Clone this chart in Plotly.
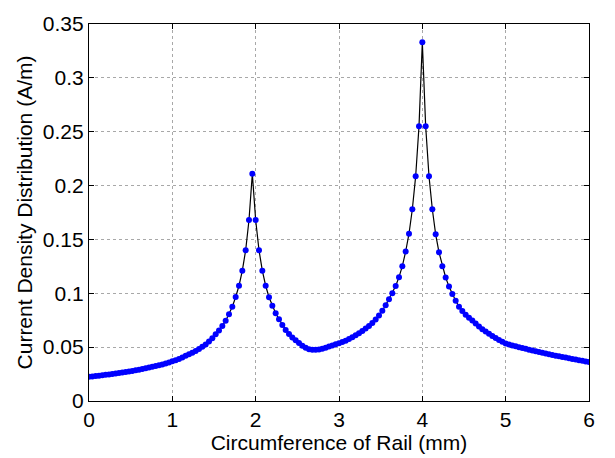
import plotly.graph_objects as go

# x positions: 0 to 6 mm in 0.04 mm steps
x_vals = [round(i * 0.04, 2) for i in range(151)]

# Current density readings (A/m)
y_vals = [
    0.0225, 0.0228, 0.0232, 0.0235, 0.0239, 0.0243, 0.0247, 0.0251, 0.0255, 0.0259,  # 0.00-0.36
    0.0264, 0.0269, 0.0274, 0.0279, 0.0285, 0.0291, 0.0297, 0.0303, 0.0310, 0.0317,  # 0.40-0.76
    0.0324, 0.0332, 0.0340, 0.0349, 0.0358, 0.0368, 0.0379, 0.0391, 0.0405, 0.0420,  # 0.80-1.16
    0.0434, 0.0449, 0.0465, 0.0483, 0.0503, 0.0525, 0.0552, 0.0583, 0.0619, 0.0655,  # 1.20-1.56
    0.0697, 0.0746, 0.0806, 0.0875, 0.0966, 0.1070, 0.1210, 0.1400, 0.1680, 0.2110,  # 1.60-1.96
    0.1680, 0.1400, 0.1210, 0.1070, 0.0963, 0.0884, 0.0815, 0.0760, 0.0705, 0.0660,  # 2.00-2.36
    0.0622, 0.0590, 0.0563, 0.0538, 0.0514, 0.0494, 0.0481, 0.0476, 0.0475, 0.0477,  # 2.40-2.76
    0.0484, 0.0494, 0.0505, 0.0515, 0.0526, 0.0536, 0.0547, 0.0560, 0.0575, 0.0592,  # 2.80-3.16
    0.0610, 0.0628, 0.0649, 0.0673, 0.0697, 0.0724, 0.0756, 0.0793, 0.0838, 0.0890,  # 3.20-3.56
    0.0945, 0.1000, 0.1068, 0.1150, 0.1252, 0.1388, 0.1553, 0.1780, 0.2087, 0.2550,  # 3.60-3.96
    0.3330, 0.2550, 0.2087, 0.1780, 0.1547, 0.1380, 0.1252, 0.1147, 0.1062, 0.0993,  # 4.00-4.36
    0.0930, 0.0876, 0.0835, 0.0800, 0.0773, 0.0748, 0.0720, 0.0692, 0.0667, 0.0645,  # 4.40-4.76
    0.0624, 0.0604, 0.0585, 0.0566, 0.0550, 0.0534, 0.0525, 0.0516, 0.0508, 0.0500,  # 4.80-5.16
    0.0492, 0.0484, 0.0476, 0.0469, 0.0462, 0.0455, 0.0448, 0.0441, 0.0434, 0.0428,  # 5.20-5.56
    0.0421, 0.0415, 0.0409, 0.0403, 0.0397, 0.0391, 0.0385, 0.0379, 0.0373, 0.0367,  # 5.60-5.96
    0.0361,                                                                          # 6.00
]

x_ticks = [0, 1, 2, 3, 4, 5, 6]
x_tick_labels = ["0", "1", "2", "3", "4", "5", "6"]
y_ticks = [0, 0.05, 0.1, 0.15, 0.2, 0.25, 0.3, 0.35]
y_tick_labels = ["0", "0.05", "0.1", "0.15", "0.2", "0.25", "0.3", "0.35"]

x_title = "Circumference of Rail (mm)"
y_title = "Current Density Distribution (A/m)"

fig = go.Figure()
fig.add_trace(go.Scatter(
    x=x_vals, y=y_vals, mode="lines+markers",
    line=dict(color="black", width=1.2),
    marker=dict(color="#0000FF", size=6, line=dict(width=0)),
    showlegend=False,
))

font_family = "Liberation Sans, Arial, sans-serif"
FS = 21
axis_common = dict(
    showline=True, linecolor="black", linewidth=1.2, mirror="ticks",
    ticks="inside", ticklen=5, tickcolor="black", tickwidth=1,
    showgrid=True, gridcolor="#a8a8a8", griddash="dot", gridwidth=1,
    zeroline=False,
    tickfont=dict(family=font_family, size=FS, color="black"),
)

fig.update_layout(
    width=615, height=458,
    margin=dict(l=89, r=26, t=15, b=56),
    paper_bgcolor="white", plot_bgcolor="white",
    font=dict(family=font_family, size=FS, color="black"),
    xaxis=dict(
        range=[0, 6], tickvals=x_ticks, ticktext=x_tick_labels,
        title=dict(text=x_title, font=dict(family=font_family, size=FS, color="black"), standoff=0),
        **axis_common,
    ),
    yaxis=dict(
        range=[0, 0.35], tickvals=y_ticks, ticktext=y_tick_labels,
        title=dict(text=y_title, font=dict(family=font_family, size=FS, color="black"), standoff=4),
        **axis_common,
    ),
)

fig.write_html("out.html")
